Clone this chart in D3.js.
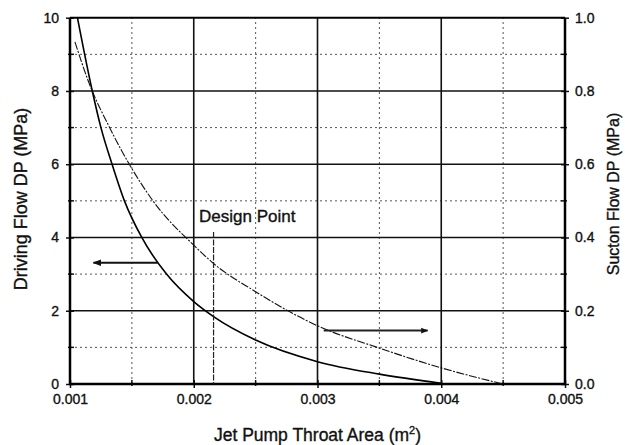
<!DOCTYPE html>
<html lang="en">
<head>
    <meta charset="UTF-8">
    <title>Jet Pump Throat Area</title>
    <script src="https://d3js.org/d3.v7.min.js"></script>
    <style>
        body { margin: 0; background: #fff; }
        svg { font-family: "Liberation Sans", Arial, sans-serif; }
        svg text { stroke: #111; stroke-width: 0.35px; }
        .tick text { font-size: 14px; fill: #111; }
        .domain { display: none; }
    </style>
</head>
<body>
<div id="chart"></div>
<script>
    // throat area (m^2) and driving flow DP (MPa), left axis
    const drivingArea = [0.00106, 0.00118, 0.00125, 0.00134, 0.00144, 0.00158, 0.00178, 0.0020, 0.00216, 0.0025, 0.0030, 0.0035, 0.0040];
    const drivingDP   = [10, 8, 7, 6, 5, 4, 3, 2.25, 1.84, 1.2, 0.61, 0.27, 0.02];

    // suction flow DP (MPa), right axis
    const suctionArea = [0.00104, 0.00115, 0.00132, 0.0015, 0.00167, 0.0020, 0.00216, 0.0025, 0.0030, 0.0035, 0.0040, 0.0045];
    const suctionDP   = [0.934, 0.825, 0.70, 0.588, 0.50, 0.379, 0.329, 0.252, 0.159, 0.098, 0.044, 0.0];

    const xTicks = [0.001, 0.002, 0.003, 0.004, 0.005];
    const xMinor = [0.0015, 0.0025, 0.0035, 0.0045];
    const leftTicks = [0, 2, 4, 6, 8, 10];
    const leftMinor = [1, 3, 5, 7, 9];
    const rightTicks = [0, 0.2, 0.4, 0.6, 0.8, 1.0];

    const designArea = 0.00216;
    const designTop = 4.15;
    // arrows: [x from, x to, y] pointing to the axis each curve belongs to
    const leftArrow = [0.00171, 0.00119, 3.31];
    const rightArrow = [0.00305, 0.00389, 0.146];

    const W = 625, H = 445;
    const margin = {top: 17.7, right: 60, bottom: 61, left: 70};

    const svg = d3.select("#chart").append("svg")
        .attr("width", W)
        .attr("height", H);

    const x = d3.scaleLinear().domain([0.001, 0.005]).range([margin.left, W - margin.right]);
    const yL = d3.scaleLinear().domain([0, 10]).range([H - margin.bottom, margin.top]);
    const yR = d3.scaleLinear().domain([0, 1]).range([H - margin.bottom, margin.top]);

    const x0 = x.range()[0], x1 = x.range()[1];
    const y0 = yL.range()[0], y1 = yL.range()[1];

    // minor grid (dotted)
    const grid = svg.append("g");
    grid.selectAll(".vminor").data(xMinor).enter().append("line")
        .attr("x1", d => x(d)).attr("x2", d => x(d))
        .attr("y1", y0).attr("y2", y1)
        .attr("stroke", "#555").attr("stroke-width", 1)
        .attr("stroke-dasharray", "2,3");
    grid.selectAll(".hminor").data(leftMinor).enter().append("line")
        .attr("x1", x0).attr("x2", x1)
        .attr("y1", d => yL(d)).attr("y2", d => yL(d))
        .attr("stroke", "#555").attr("stroke-width", 1)
        .attr("stroke-dasharray", "2,3");

    // major grid (solid)
    grid.selectAll(".vmajor").data(xTicks.slice(1, -1)).enter().append("line")
        .attr("x1", d => x(d)).attr("x2", d => x(d))
        .attr("y1", y0).attr("y2", y1)
        .attr("stroke", "#111").attr("stroke-width", 1.6);
    grid.selectAll(".hmajor").data(leftTicks.slice(1, -1)).enter().append("line")
        .attr("x1", x0).attr("x2", x1)
        .attr("y1", d => yL(d)).attr("y2", d => yL(d))
        .attr("stroke", "#111").attr("stroke-width", 1.6);

    // axes
    const fmtX = d3.format(".3f");
    svg.append("g")
        .attr("transform", `translate(0,${y0})`)
        .call(d3.axisBottom(x).tickValues(xTicks).tickFormat(fmtX).tickSize(4).tickPadding(6))
        .call(g => g.selectAll(".tick line").attr("stroke", "#111").attr("stroke-width", 1.5).attr("y1", -4));

    svg.append("g")
        .attr("transform", `translate(${x0},0)`)
        .call(d3.axisLeft(yL).tickValues(leftTicks).tickFormat(d3.format("d")).tickSize(4).tickPadding(7))
        .call(g => g.selectAll(".tick line").attr("stroke", "#111").attr("stroke-width", 1.5).attr("x1", 4));

    svg.append("g")
        .attr("transform", `translate(${x1},0)`)
        .call(d3.axisRight(yR).tickValues(rightTicks).tickFormat(d3.format(".1f")).tickSize(4).tickPadding(6))
        .call(g => g.selectAll(".tick line").attr("stroke", "#111").attr("stroke-width", 1.5).attr("x1", -4));

    // minor ticks
    svg.append("g").selectAll("line").data(xMinor).enter().append("line")
        .attr("x1", d => x(d)).attr("x2", d => x(d))
        .attr("y1", y0 - 4).attr("y2", y0 + 2)
        .attr("stroke", "#111").attr("stroke-width", 1.5);
    svg.append("g").selectAll("line").data(leftMinor).enter().append("line")
        .attr("x1", x0 - 2).attr("x2", x0 + 4)
        .attr("y1", d => yL(d)).attr("y2", d => yL(d))
        .attr("stroke", "#111").attr("stroke-width", 1.5);
    svg.append("g").selectAll("line").data(leftMinor).enter().append("line")
        .attr("x1", x1 - 4).attr("x2", x1 + 2)
        .attr("y1", d => yL(d)).attr("y2", d => yL(d))
        .attr("stroke", "#111").attr("stroke-width", 1.5);

    // frame
    svg.append("path")
        .attr("d", `M${x0},${y1}V${y0}H${x1}V${y1}`)
        .attr("fill", "none").attr("stroke", "#000").attr("stroke-width", 2.5);
    svg.append("line")
        .attr("x1", x0).attr("x2", x1).attr("y1", y1).attr("y2", y1)
        .attr("stroke", "#000").attr("stroke-width", 2);

    // curves
    const drivingLine = d3.line()
        .x((d, i) => x(drivingArea[i]))
        .y(d => yL(d))
        .curve(d3.curveMonotoneX);
    const suctionLine = d3.line()
        .x((d, i) => x(suctionArea[i]))
        .y(d => yR(d))
        .curve(d3.curveMonotoneX);

    svg.append("path")
        .datum(drivingDP)
        .attr("d", drivingLine)
        .attr("fill", "none").attr("stroke", "#000").attr("stroke-width", 1.6);
    svg.append("path")
        .datum(suctionDP)
        .attr("d", suctionLine)
        .attr("fill", "none").attr("stroke", "#111").attr("stroke-width", 1.1)
        .attr("stroke-dasharray", "8,1.5,2,1.5");

    // design point marker
    svg.append("line")
        .attr("x1", x(designArea)).attr("x2", x(designArea))
        .attr("y1", yL(designTop)).attr("y2", y0)
        .attr("stroke", "#222").attr("stroke-width", 1.2)
        .attr("stroke-dasharray", "6,1.5");
    svg.append("text")
        .attr("x", 199).attr("y", 222)
        .style("font-size", "17px").attr("fill", "#111")
        .text("Design Point");

    // arrows
    const defs = svg.append("defs");
    defs.append("marker")
        .attr("id", "head")
        .attr("viewBox", "0 0 10 10")
        .attr("refX", 9).attr("refY", 5)
        .attr("markerWidth", 4).attr("markerHeight", 4)
        .attr("markerUnits", "strokeWidth")
        .attr("orient", "auto")
        .append("path").attr("d", "M0,1L10,5L0,9Z").attr("fill", "#111");

    svg.append("line")
        .attr("x1", x(leftArrow[0])).attr("x2", x(leftArrow[1]))
        .attr("y1", yL(leftArrow[2])).attr("y2", yL(leftArrow[2]))
        .attr("stroke", "#111").attr("stroke-width", 2.2)
        .attr("marker-end", "url(#head)");
    svg.append("line")
        .attr("x1", x(rightArrow[0])).attr("x2", x(rightArrow[1]))
        .attr("y1", yR(rightArrow[2])).attr("y2", yR(rightArrow[2]))
        .attr("stroke", "#222").attr("stroke-width", 1.8)
        .attr("marker-end", "url(#head)");

    // axis titles
    const xt = svg.append("text")
        .attr("x", (x0 + x1) / 2).attr("y", 441)
        .attr("text-anchor", "middle")
        .style("font-size", "17.5px").attr("fill", "#111");
    xt.append("tspan").text("Jet Pump Throat Area (m");
    xt.append("tspan").attr("dy", -7).style("font-size", "11px").text("2");
    xt.append("tspan").attr("dy", 7).text(")");

    svg.append("text")
        .attr("transform", `translate(27,199) rotate(-90)`)
        .attr("text-anchor", "middle")
        .style("font-size", "18px").attr("fill", "#111")
        .text("Driving Flow DP (MPa)");

    svg.append("text")
        .attr("transform", `translate(619,194) rotate(-90)`)
        .attr("text-anchor", "middle")
        .style("font-size", "16px").attr("fill", "#111")
        .text("Sucton Flow DP (MPa)");
</script>
</body>
</html>
